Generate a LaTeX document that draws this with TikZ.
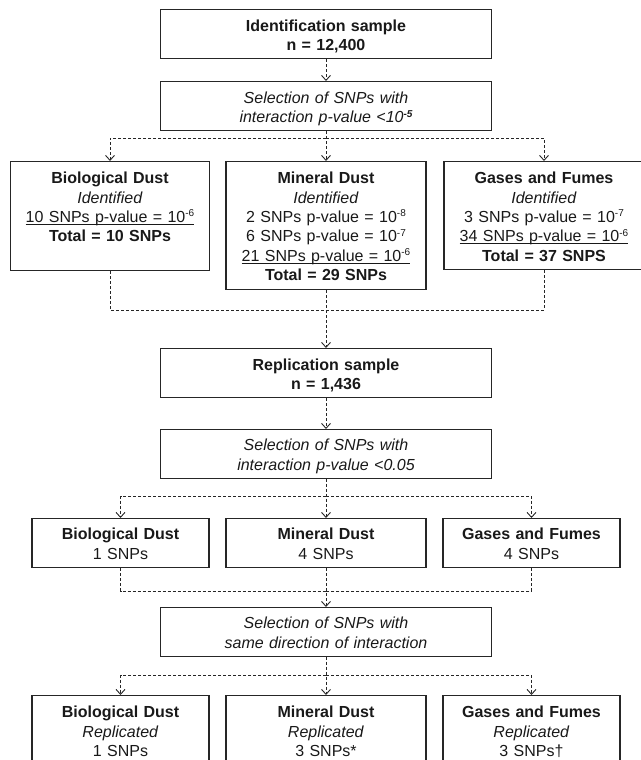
\documentclass[tikz,border=0pt]{standalone}
\usepackage{fontspec}
\setmainfont{Liberation Sans}
\usetikzlibrary{arrows.meta}

% small raised exponent and a heavier underline
\newcommand{\pexp}[1]{\raisebox{5.5pt}{\fontsize{10}{12}\selectfont #1}}
\newcommand{\undl}[1]{\leavevmode\setbox0\hbox{#1}\rlap{\rule[-2.6pt]{\wd0}{1.2pt}}\box0}

\begin{document}
\begin{tikzpicture}[x=1pt,y=-1pt,
  font=\fontsize{16}{19.4}\selectfont, text=black!90,
  box/.style={draw=black!85, line width=1.2pt, anchor=north, align=center,
    inner xsep=0pt, inner ysep=0pt, text height=21.5pt, text depth=27.5pt},
  wide/.style={box, text width=331pt},
  flow/.style={draw=black!85, line width=0.9pt, dash pattern=on 3pt off 2pt},
  >={Straight Barb[length=5pt,width=9pt]}]
  \useasboundingbox (0,0) rectangle (640,760);

  % identification stage
  \node[wide] (ident) at (326,9) {\textbf{Identification sample}\\\textbf{n = 12,400}};
  \node[wide] (selA) at (326,81) {\textit{Selection of SNPs with}\\\textit{interaction p-value <10\pexp{\textbf{-5}}}};

  \node[box, text width=199pt, text height=22pt, text depth=87pt] (bioA) at (110,161)
    {\textbf{Biological Dust}\\\textit{Identified}\\\undl{10 SNPs p-value = 10\pexp{-6}}\\\textbf{Total = 10 SNPs}};
  \node[box, text width=200pt, text height=22pt, text depth=106pt] (minA) at (326,161)
    {\textbf{Mineral Dust}\\\textit{Identified}\\2 SNPs p-value = 10\pexp{-8}\\6 SNPs p-value = 10\pexp{-7}\\\undl{21 SNPs p-value = 10\pexp{-6}}\\\textbf{Total = 29 SNPs}};
  \node[box, text width=200pt, text height=22pt, text depth=86pt] (gasA) at (544,161)
    {\textbf{Gases and Fumes}\\\textit{Identified}\\3 SNPs p-value = 10\pexp{-7}\\\undl{34 SNPs p-value = 10\pexp{-6}}\\\textbf{Total = 37 SNPS}};

  % replication stage
  \node[wide] (rep) at (326,348) {\textbf{Replication sample}\\\textbf{n = 1,436}};
  \node[wide, text height=21pt] (selB) at (326,429) {\textit{Selection of SNPs with}\\\textit{interaction p-value <0.05}};

  \node[box, text width=177pt, text height=21pt, text depth=28pt] (bioB) at (120.5,518) {\textbf{Biological Dust}\\1 SNPs};
  \node[box, text width=200pt, text height=21pt, text depth=28pt] (minB) at (326,518) {\textbf{Mineral Dust}\\4 SNPs};
  \node[box, text width=177pt, text height=21pt, text depth=28pt] (gasB) at (531.5,518) {\textbf{Gases and Fumes}\\4 SNPs};

  \node[wide, text height=21pt] (selC) at (326,607) {\textit{Selection of SNPs with}\\\textit{same direction of interaction}};

  \node[box, text width=177pt, text height=22pt, text depth=52pt] (bioC) at (120.5,695) {\textbf{Biological Dust}\\\textit{Replicated}\\1 SNPs};
  \node[box, text width=200pt, text height=22pt, text depth=52pt] (minC) at (326,695) {\textbf{Mineral Dust}\\\textit{Replicated}\\3 SNPs*};
  \node[box, text width=177pt, text height=22pt, text depth=52pt] (gasC) at (531.5,695) {\textbf{Gases and Fumes}\\\textit{Replicated}\\3 SNPs\textdagger};

  % branch and merge points
  \coordinate (brA) at (326,138);
  \coordinate (mgA) at (326,310);
  \coordinate (brB) at (326,496);
  \coordinate (mgB) at (326,591);
  \coordinate (brC) at (326,675);

  \draw[flow,->] (ident) -- (selA);
  \draw[flow,->] (selA) -- (minA);
  \draw[flow,->] (brA) -| (bioA);
  \draw[flow,->] (brA) -| (gasA);
  \draw[flow] (bioA) |- (mgA);
  \draw[flow] (gasA) |- (mgA);
  \draw[flow,->] (minA) -- (rep);

  \draw[flow,->] (rep) -- (selB);
  \draw[flow,->] (selB) -- (minB);
  \draw[flow,->] (brB) -| (bioB);
  \draw[flow,->] (brB) -| (gasB);
  \draw[flow] (bioB) |- (mgB);
  \draw[flow] (gasB) |- (mgB);
  \draw[flow,->] (minB) -- (selC);

  \draw[flow,->] (selC) -- (minC);
  \draw[flow,->] (brC) -| (bioC);
  \draw[flow,->] (brC) -| (gasC);
\end{tikzpicture}
\end{document}
